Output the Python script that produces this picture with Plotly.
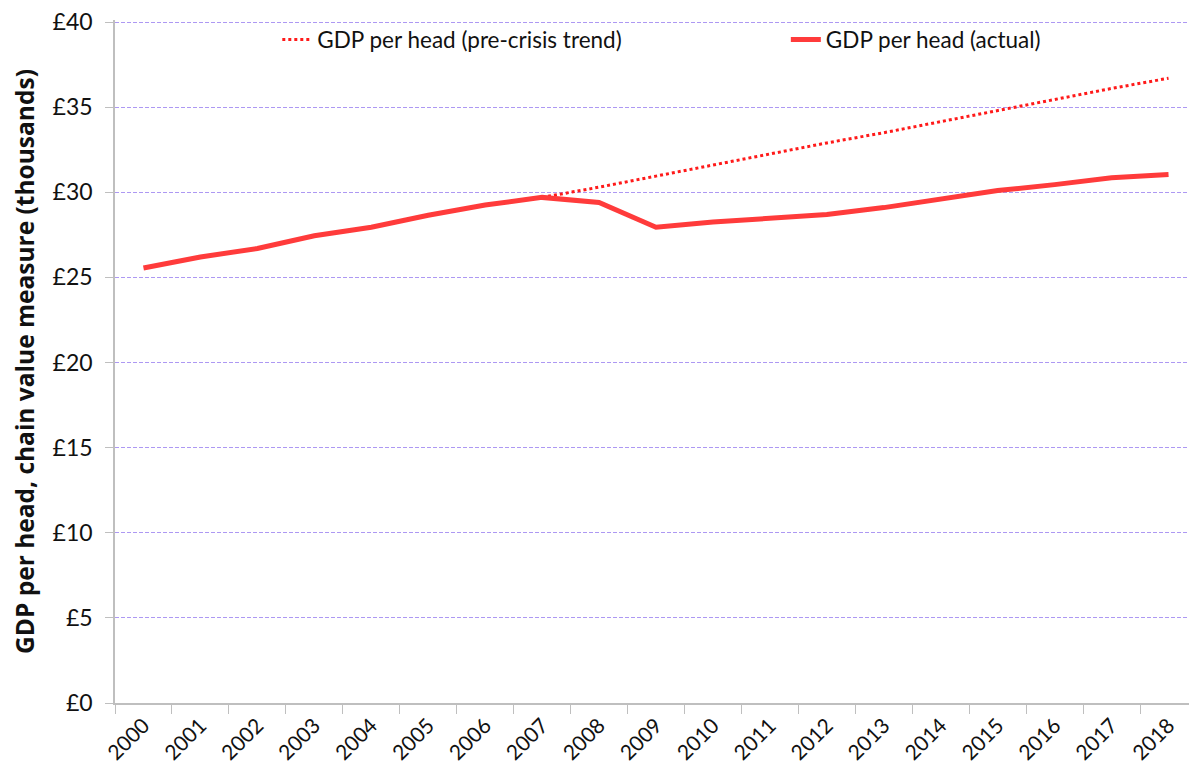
import plotly.graph_objects as go

years = [str(y) for y in range(2000, 2019)]
actual = [25.55, 26.2, 26.7, 27.45, 27.95, 28.65, 29.25, 29.7, 29.4, 27.95, 28.25,
          28.45, 28.7, 29.1, 29.6, 30.1, 30.45, 30.85, 31.05]
trend_years = [str(y) for y in range(2007, 2019)]
trend = [29.7, 30.3, 30.95, 31.6, 32.25, 32.9, 33.5, 34.15, 34.8, 35.45, 36.1, 36.7]
y_ticks = [0, 5, 10, 15, 20, 25, 30, 35, 40]
y_labels = ["£" + str(v) for v in y_ticks]

FONT = "Lato"

fig = go.Figure()
fig.add_trace(go.Scatter(
    x=trend_years, y=trend, mode="lines", name="GDP per head (pre-crisis trend)",
    line=dict(color="#ff1a1a", width=3, dash="dot"), legend="legend",
))
fig.add_trace(go.Scatter(
    x=years, y=actual, mode="lines", name="GDP per head (actual)",
    line=dict(color="#ff3b3b", width=5), legend="legend2",
))

leg_common = dict(orientation="h", yanchor="middle", y=0.971,
                  font=dict(size=22.5, family=FONT, color="#111111"),
                  bgcolor="rgba(0,0,0,0)", xanchor="left")

# page body has an 8px default margin: size the figure to fill the rest
fig.update_layout(
    width=1189, height=770,
    margin=dict(l=107, r=0, t=12, b=75),
    paper_bgcolor="white", plot_bgcolor="white",
    font=dict(family=FONT, color="#111111"),
    showlegend=True,
    legend=dict(x=0.150, **leg_common),
    legend2=dict(x=0.620, **leg_common),
    xaxis=dict(
        type="category", categoryorder="array", categoryarray=years,
        tickson="boundaries", ticks="outside", ticklen=9, tickcolor="#bfbfbf",
        showline=True, linecolor="#bfbfbf", linewidth=2,
        showgrid=False, tickangle=-45, tickfont=dict(size=21, family=FONT),
        range=[-0.5, 18.5], automargin=False,
    ),
    yaxis=dict(
        range=[0, 40.12], tickvals=y_ticks, ticktext=y_labels,
        ticks="outside", ticklen=8, tickcolor="#bfbfbf",
        showline=True, linecolor="#bfbfbf", linewidth=1.5,
        showgrid=True, gridcolor="#ad98f3", griddash="4px,2px", gridwidth=1,
        zeroline=False, tickfont=dict(size=23, family=FONT), automargin=False,
        ticklabelstandoff=8, ticklabeloverflow="allow",
        title=dict(text="<b>GDP per head, chain value measure (thousands)</b>",
                   font=dict(size=24.5, family="Open Sans"), standoff=16),
    ),
)

fig.write_html("out.html")
